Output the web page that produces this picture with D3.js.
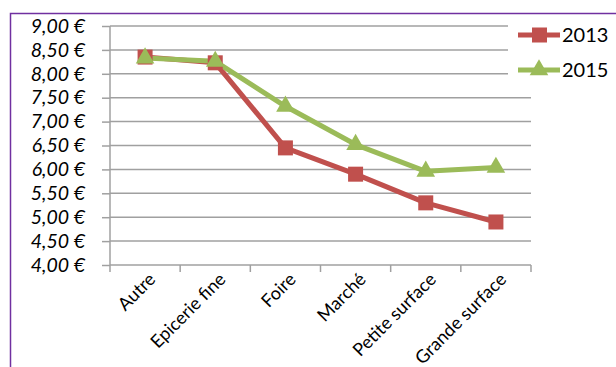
<!DOCTYPE html>
<html><head><meta charset="utf-8">
<script src="https://cdn.jsdelivr.net/npm/d3@7"></script>
<style>body{margin:0;background:#fff}svg{display:block}</style>
</head><body>
<svg id="c" width="616" height="367"></svg>
<script>
const categories = ["Autre","Epicerie fine","Foire","Marché","Petite surface","Grande surface"];
const values2013 = [8.35, 8.23, 6.45, 5.90, 5.30, 4.90];
const values2015 = [8.33, 8.26, 7.32, 6.52, 5.96, 6.04];
const yTicks = [4,4.5,5,5.5,6,6.5,7,7.5,8,8.5,9];
const seriesNames = ["2013","2015"];

const svg = d3.select("#c");
const red = "#C0504D", green = "#9BBB59", grid = "#A0A0A0";
const x0 = 110, x1 = 531, yTop = 26, yBot = 265;

svg.append("rect").attr("x",10.5).attr("y",13.5).attr("width",700).attr("height",500)
  .attr("fill","none").attr("stroke","#7030A0").attr("stroke-width",1.5);

const x = d3.scaleBand().domain(categories).range([x0,x1]);
const y = d3.scaleLinear().domain([4,9]).range([yBot,yTop]);
const fmt = v => d3.format(".2f")(v).replace(".",",") + " €";

// gridlines
svg.append("g").selectAll("line").data(yTicks.filter(v=>v>4)).join("line")
  .attr("x1",x0).attr("x2",x1).attr("y1",d=>y(d)).attr("y2",d=>y(d))
  .attr("stroke",grid).attr("stroke-width",1.5);

// y axis
const ya = svg.append("g").attr("transform",`translate(${x0},0)`)
  .call(d3.axisLeft(y).tickValues(yTicks).tickFormat(fmt).tickSize(8).tickPadding(17));
ya.selectAll(".domain").attr("stroke",grid).attr("stroke-width",1.5).attr("d",`M0,${yTop}V${yBot}`);
ya.selectAll(".tick line").attr("stroke",grid).attr("stroke-width",1.5);
ya.selectAll("text").style("font-family","Lato").style("font-style","italic").style("font-size","19.5px").attr("fill","#000");

// x axis
const xa = svg.append("g").attr("transform",`translate(0,${yBot})`);
xa.append("line").attr("x1",x0).attr("x2",x1).attr("stroke",grid).attr("stroke-width",1.5);
xa.selectAll("line.t").data(categories.concat(["_end"])).join("line").attr("class","t")
  .attr("x1",(d,i)=> i<categories.length ? x(d) : x1).attr("x2",(d,i)=> i<categories.length ? x(d) : x1)
  .attr("y1",0).attr("y2",7).attr("stroke",grid).attr("stroke-width",1.5);
xa.selectAll("text").data(categories).join("text")
  .attr("transform",d=>`translate(${x(d)+x.bandwidth()/2+7},${11}) rotate(-45)`)
  .attr("text-anchor","end").attr("dy","0.35em")
  .style("font-family","Lato").style("font-size","18px").attr("fill","#000").text(d=>d);

// lines
const line = d3.line().x((d,i)=>x(categories[i])+x.bandwidth()/2).y(d=>y(d));
svg.append("path").datum(values2013).attr("d",line).attr("fill","none").attr("stroke",red).attr("stroke-width",5).attr("stroke-linejoin","round");
svg.append("path").datum(values2015).attr("d",line).attr("fill","none").attr("stroke",green).attr("stroke-width",5).attr("stroke-linejoin","round");

const sq = 15;
svg.append("g").selectAll("rect").data(values2013).join("rect")
  .attr("x",(d,i)=>x(categories[i])+x.bandwidth()/2-sq/2).attr("y",d=>y(d)-sq/2)
  .attr("width",sq).attr("height",sq).attr("fill",red);
const tri = d3.symbol().type(d3.symbolTriangle).size(150);
svg.append("g").selectAll("path").data(values2015).join("path")
  .attr("transform",(d,i)=>`translate(${x(categories[i])+x.bandwidth()/2},${y(d)})`)
  .attr("d",tri).attr("fill",green);

// legend
const lg = svg.append("g");
lg.append("rect").attr("x",508).attr("y",15).attr("width",107).attr("height",70).attr("fill","#fff");
[[seriesNames[0],red,35,"sq"],[seriesNames[1],green,70,"tri"]].forEach(([n,c,ly,m])=>{
  lg.append("line").attr("x1",518).attr("x2",560).attr("y1",ly).attr("y2",ly).attr("stroke",c).attr("stroke-width",5);
  if(m==="sq") lg.append("rect").attr("x",532).attr("y",ly-7.5).attr("width",15).attr("height",15).attr("fill",c);
  else lg.append("path").attr("transform",`translate(539,${ly})`).attr("d",tri).attr("fill",c);
  lg.append("text").attr("x",562).attr("y",ly).attr("dy","0.36em").style("font-family","Lato").style("font-size","20px").attr("fill","#000").text(n);
});
</script>
</body></html>
